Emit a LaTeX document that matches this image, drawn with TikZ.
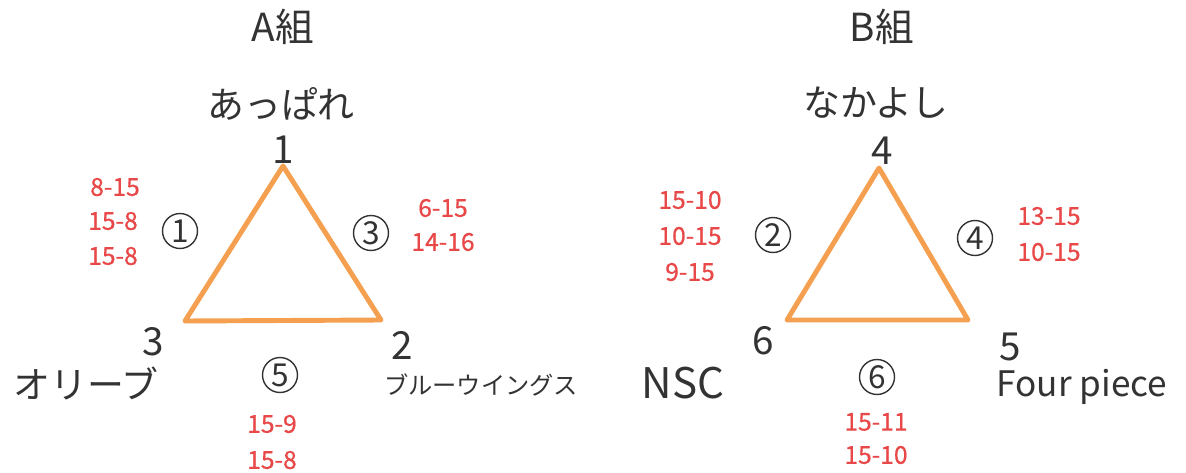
\documentclass[tikz,border=0pt]{standalone}
\usepackage{fontspec}
\setmainfont{Noto Sans CJK JP}
\newfontfamily\jpfont{Noto Sans CJK JP}
\newfontfamily\scfont[FakeBold=0.6]{Noto Sans CJK JP}
\definecolor{tri}{HTML}{F5A050}
\definecolor{score}{HTML}{E84848}
\definecolor{ink}{HTML}{333333}
\begin{document}
\begin{tikzpicture}[x=0.02cm,y=-0.02cm,
  title/.style={text=ink,font=\jpfont\fontsize{22pt}{24pt}\selectfont,inner sep=0pt},
  team/.style={text=ink,font=\jpfont\fontsize{21pt}{24pt}\selectfont,inner sep=0pt},
  smallteam/.style={text=ink,font=\jpfont\fontsize{13.8pt}{16pt}\selectfont,inner sep=0pt},
  num/.style={text=ink,font=\jpfont\fontsize{22pt}{24pt}\selectfont,inner sep=0pt},
  circ/.style={draw=ink,text=ink,circle,line width=0.8pt,minimum size=0.7cm,inner sep=0pt,font=\jpfont\fontsize{18pt}{20pt}\selectfont},
  sc/.style={text=score,font=\scfont\fontsize{14pt}{16pt}\selectfont,inner sep=0pt},
  edge/.style={draw=tri,line width=2.8pt,line join=round}]
\fill[white] (0,0) rectangle (1186,473);
\useasboundingbox (0,0) rectangle (1186,473);
% ---------- A group ----------
\node[title] (tA) at (283,27) {A組};
\node[team] (nA1) at (281,104) {あっぱれ};
\node[num] (n1) at (283,150) {1};
\coordinate (a1) at (283,166);
\coordinate (a2) at (381,320);
\coordinate (a3) at (185,321);
\draw[edge] (a1) -- (a2) -- (a3) -- cycle;
\node[num] (n3) at (153,342) {3};
\node[num] (n2) at (402,345) {2};
\node[team] (nA3) at (86,383) {オリーブ};
\node[smallteam] (nA2) at (481,385) {ブルーウイングス};
\node[circ] (c1) at (180,231) {1};
\node[circ] (c3) at (371,233) {3};
\node[circ] (c5) at (280,375) {5};
\node[sc] (s11) at (115,187) {8-15};
\node[sc] (s12) at (113,221) {15-8};
\node[sc] (s13) at (113,256) {15-8};
\node[sc] (s31) at (443,208) {6-15};
\node[sc] (s32) at (443,242) {14-16};
\node[sc] (s51) at (272,424) {15-9};
\node[sc] (s52) at (272,460) {15-8};
% ---------- B group ----------
\node[title] (tB) at (882,27) {B組};
\node[team] (nB4) at (876,103) {なかよし};
\node[num] (n4) at (882,151) {4};
\coordinate (b4) at (879,168);
\coordinate (b5) at (968,320);
\coordinate (b6) at (787,320);
\draw[edge] (b4) -- (b5) -- (b6) -- cycle;
\node[num] (n6) at (763,341) {6};
\node[num] (n5) at (1010,347) {5};
\node[team,font=\jpfont\fontsize{24pt}{26pt}\selectfont] (nB6) at (683,383) {NSC};
\node[team,font=\jpfont\fontsize{20pt}{22pt}\selectfont] (nB5) at (1082,387) {Four piece};
\node[circ] (c2) at (773,235) {2};
\node[circ] (c4) at (975,238) {4};
\node[circ] (c6) at (877,377) {6};
\node[sc] (t21) at (690,200) {15-10};
\node[sc] (t22) at (690,236) {10-15};
\node[sc] (t23) at (690,272) {9-15};
\node[sc] (t41) at (1049,216) {13-15};
\node[sc] (t42) at (1049,252) {10-15};
\node[sc] (t61) at (876,422) {15-11};
\node[sc] (t62) at (876,455) {15-10};
\end{tikzpicture}
\end{document}
